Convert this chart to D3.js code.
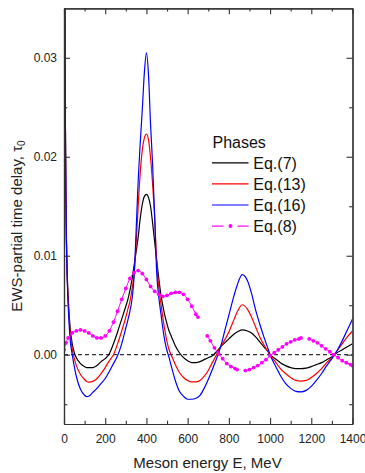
<!DOCTYPE html>
<html>
<head>
<meta charset="utf-8">
<script src="https://cdn.jsdelivr.net/npm/d3@7"></script>
<style>
  html, body { margin: 0; background: #fff; }
  svg { display: block; font-family: Arial, "Liberation Sans", sans-serif; }
</style>
</head>
<body>
<svg id="chart" width="365" height="473"></svg>
<script>
// Meson energy grid (MeV) shared by the three smooth phase curves
const energy = [0, 3, 6, 9, 12, 16, 22, 30, 40, 50, 60, 80, 100, 110, 120, 140, 160, 180, 200, 220,
  240, 260, 280, 300, 310, 320, 330, 340, 350, 360, 370, 380, 390, 400, 410, 420, 430, 440, 450, 460,
  470, 480, 490, 500, 510, 520, 540, 560, 580, 600, 620, 640, 660, 680, 700, 720, 740, 760, 780, 800,
  820, 840, 865, 890, 910, 930, 950, 970, 990, 1000, 1025, 1050, 1075, 1100, 1125, 1150, 1175, 1200,
  1225, 1250, 1275, 1300, 1325, 1350, 1375, 1400];

// EWS partial time delay, Eq.(7)
const eq7 = [0.2, 0.045, 0.026, 0.0165, 0.0115, 0.0080, 0.0051, 0.0027, 0.0011, 0.0002, -0.0003, -0.0009, -0.0012, -0.0013, -0.0013, -0.0013, -0.0011, -0.0007, -0.0004, 0.0001,
  0.0011, 0.0023, 0.0036, 0.0049, 0.0056, 0.0065, 0.0076, 0.0090, 0.0104, 0.0119, 0.0138, 0.0152, 0.0160, 0.0162, 0.0159, 0.0150, 0.0133, 0.0114, 0.0095, 0.0077,
  0.0061, 0.0049, 0.0039, 0.0031, 0.0024, 0.0019, 0.0009, 0.0002, -0.0003, -0.0006, -0.0008, -0.0008, -0.0007, -0.0005, -0.0003, -0.0001, 0.0003, 0.0008, 0.0012, 0.0016,
  0.0020, 0.0023, 0.0025, 0.0024, 0.0022, 0.0018, 0.0013, 0.0008, 0.0003, 0.0000, -0.0004, -0.0008, -0.0011, -0.0013, -0.0014, -0.0014, -0.00135, -0.0012,
  -0.0010, -0.0008, -0.0005, -0.0002, 0.0002, 0.0005, 0.0008, 0.0011];

// EWS partial time delay, Eq.(13)
const eq13 = [0.2, 0.045, 0.026, 0.0164, 0.0113, 0.0077, 0.0047, 0.0022, 0.0006, -0.0004, -0.0011, -0.0020, -0.0025, -0.0027, -0.00276, -0.0027, -0.0024, -0.0019, -0.0013, -0.0006,
  0.0000, 0.0011, 0.0024, 0.0038, 0.0046, 0.0054, 0.0066, 0.0082, 0.0112, 0.0150, 0.0184, 0.0207, 0.0219, 0.0223, 0.0217, 0.0199, 0.0172, 0.0138, 0.0092, 0.0068,
  0.0052, 0.0037, 0.0024, 0.0013, 0.0005, 0.0000, -0.0010, -0.0018, -0.0023, -0.0026, -0.00275, -0.00275, -0.0026, -0.0022, -0.0016, -0.0008, 0.0000, 0.0008, 0.0015, 0.0023,
  0.0033, 0.0043, 0.00505, 0.0046, 0.0038, 0.0028, 0.0018, 0.0010, 0.0003, 0.0000, -0.0007, -0.0014, -0.0019, -0.0023, -0.0026, -0.00266, -0.0026, -0.0023,
  -0.0019, -0.0014, -0.0008, -0.0003, 0.0004, 0.0011, 0.0018, 0.0024];

// EWS partial time delay, Eq.(16)
const eq16 = [0.2, 0.045, 0.026, 0.0163, 0.0111, 0.0074, 0.0042, 0.0015, 0.0000, -0.0012, -0.0022, -0.0035, -0.0041, -0.00423, -0.0042, -0.0038, -0.0034, -0.0029, -0.0024, -0.0017,
  -0.0009, -0.0001, 0.0011, 0.0027, 0.0035, 0.0044, 0.0056, 0.0078, 0.0125, 0.0176, 0.0214, 0.0248, 0.0285, 0.0305, 0.0283, 0.0233, 0.0192, 0.0140, 0.0082, 0.0058,
  0.0042, 0.0026, 0.0013, 0.0004, -0.0003, -0.0011, -0.0026, -0.0037, -0.0042, -0.0045, -0.0045, -0.0044, -0.0041, -0.0034, -0.0025, -0.0015, -0.0004, 0.0008, 0.0024, 0.0040,
  0.0056, 0.0070, 0.0081, 0.0075, 0.0062, 0.0045, 0.0031, 0.0018, 0.0006, 0.0000, -0.0011, -0.0021, -0.0029, -0.0034, -0.0037, -0.00375, -0.0036, -0.0032,
  -0.0026, -0.0019, -0.0011, -0.0004, 0.0004, 0.0014, 0.0025, 0.0036];

// Eq.(8): computed points; null marks a break between branches
const eq8Energy = [0, 10, 20, 40, 60, 80, 100, 120, 140, 160, 180, 200, 220, 240, 260, 280, 300, 320, 340, 360, 380,
  400, 420, 440, 460, 480, 500, 520, 540, 560, 580, 600, 620, 640, 650, 670,
  695, 710, 730, 750, 770, 790, 810, 830, 840, 860,
  880, 900, 920, 940, 960, 980, 1000, 1020, 1040, 1060, 1080, 1100, 1120, 1140, 1150, 1170,
  1190, 1210, 1230, 1250, 1270, 1290, 1310, 1330, 1350, 1370, 1390, 1400];
const eq8 = [0.0005, 0.0012, 0.0017, 0.0022, 0.0024, 0.0025, 0.0024, 0.0022, 0.0019, 0.0017, 0.0017, 0.0019, 0.0024, 0.0033, 0.0044, 0.0056, 0.0067, 0.0077, 0.0083, 0.0085, 0.0082,
  0.0076, 0.0069, 0.0064, 0.0061, 0.0059, 0.0060, 0.0062, 0.0063, 0.0063, 0.0061, 0.0056, 0.0049, 0.0041, 0.0038, null,
  0.0019, 0.0014, 0.0007, 0.0001, -0.0004, -0.0009, -0.0012, -0.0014, -0.0015, null,
  -0.0016, -0.0015, -0.0013, -0.0011, -0.0008, -0.0005, -0.0001, 0.0002, 0.0005, 0.0008, 0.0011, 0.0013, 0.0015, 0.0016, 0.0017, null,
  0.0016, 0.0014, 0.0012, 0.0009, 0.0006, 0.0003, 0.0000, -0.0003, -0.0006, -0.0008, -0.0010, -0.0011];

// Axis ticks
const xMajor = [0, 200, 400, 600, 800, 1000, 1200, 1400];
const xMinor = [100, 300, 500, 700, 900, 1100, 1300];
const yMajor = [0.00, 0.01, 0.02, 0.03];
const yMinor = [-0.005, 0.005, 0.015, 0.025];

const seriesNames = ["Eq.(7)", "Eq.(13)", "Eq.(16)", "Eq.(8)"];
const seriesColors = ["#000000", "#ff0000", "#0000ff", "#ff00ff"];

const svg = d3.select("#chart");
const plotLeft = 64, plotRight = 352.5, plotTop = 8.3, plotBottom = 424;

const x = d3.scaleLinear().domain([0, 1400]).range([plotLeft, plotRight]);
const y = d3.scaleLinear().domain([-0.007, 0.035]).range([plotBottom, plotTop]);

svg.append("defs").append("clipPath").attr("id", "plot-clip")
  .append("rect").attr("x", plotLeft).attr("y", plotTop)
  .attr("width", plotRight - plotLeft).attr("height", plotBottom - plotTop);

// Zero reference line
svg.append("line")
  .attr("x1", x(0)).attr("x2", x(1400)).attr("y1", y(0)).attr("y2", y(0))
  .attr("stroke", "#000").attr("stroke-width", 1).attr("stroke-dasharray", "4,3");

const plot = svg.append("g").attr("clip-path", "url(#plot-clip)");

const line = d3.line()
  .defined(d => d[1] != null)
  .x(d => x(d[0])).y(d => y(d[1]))
  .curve(d3.curveMonotoneX);

[eq7, eq13, eq16].forEach((vals, i) => {
  plot.append("path")
    .datum(energy.map((e, k) => [e, vals[k]]))
    .attr("fill", "none")
    .attr("stroke", seriesColors[i])
    .attr("stroke-width", 1.2)
    .attr("d", line);
});

const eq8Points = eq8Energy.map((e, k) => [e, eq8[k]]);
plot.append("path")
  .datum(eq8Points)
  .attr("fill", "none")
  .attr("stroke", seriesColors[3])
  .attr("stroke-width", 1)
  .attr("d", line);
plot.selectAll("circle.eq8")
  .data(eq8Points.filter(d => d[1] != null))
  .join("circle")
  .attr("class", "eq8")
  .attr("cx", d => x(d[0])).attr("cy", d => y(d[1]))
  .attr("r", 1.9)
  .attr("fill", seriesColors[3]);

// Frame with inward ticks on all four sides
function styleAxis(g) {
  g.select(".domain").attr("stroke", "#333").attr("stroke-width", 1.2);
  g.selectAll(".tick line").attr("stroke", "#333").attr("stroke-width", 1.1);
  g.selectAll("text").attr("fill", "#222").attr("font-size", 12)
    .attr("font-family", "Arial, 'Liberation Sans', sans-serif");
}

svg.append("g").attr("transform", `translate(0,${plotBottom})`)
  .call(d3.axisBottom(x).tickValues(xMinor).tickSize(-3.3).tickSizeOuter(0).tickFormat(""))
  .call(styleAxis);
svg.append("g").attr("transform", `translate(0,${plotBottom})`)
  .call(d3.axisBottom(x).tickValues(xMajor).tickSize(-6).tickSizeOuter(0).tickPadding(10).tickFormat(d3.format("d")))
  .call(styleAxis);

svg.append("g").attr("transform", `translate(0,${plotTop})`)
  .call(d3.axisTop(x).tickValues(xMinor).tickSize(-3.3).tickSizeOuter(0).tickFormat(""))
  .call(styleAxis);
svg.append("g").attr("transform", `translate(0,${plotTop})`)
  .call(d3.axisTop(x).tickValues(xMajor).tickSize(-6).tickSizeOuter(0).tickFormat(""))
  .call(styleAxis);

svg.append("g").attr("transform", `translate(${plotLeft},0)`)
  .call(d3.axisLeft(y).tickValues(yMinor).tickSize(-3.3).tickSizeOuter(0).tickFormat(""))
  .call(styleAxis);
svg.append("g").attr("transform", `translate(${plotLeft},0)`)
  .call(d3.axisLeft(y).tickValues(yMajor).tickSize(-6).tickSizeOuter(0).tickPadding(7).tickFormat(d3.format(".2f")))
  .call(styleAxis);

svg.append("g").attr("transform", `translate(${plotRight},0)`)
  .call(d3.axisRight(y).tickValues(yMinor).tickSize(-3.3).tickSizeOuter(0).tickFormat(""))
  .call(styleAxis);
svg.append("g").attr("transform", `translate(${plotRight},0)`)
  .call(d3.axisRight(y).tickValues(yMajor).tickSize(-6).tickSizeOuter(0).tickFormat(""))
  .call(styleAxis);

// Axis titles
svg.append("text")
  .attr("x", 207.5).attr("y", 467.5)
  .attr("text-anchor", "middle").attr("font-size", 15).attr("fill", "#222")
  .text("Meson energy E, MeV");

const yTitle = svg.append("text")
  .attr("transform", "translate(21.5,226) rotate(-90)")
  .attr("text-anchor", "middle").attr("font-size", 15).attr("fill", "#222");
yTitle.append("tspan").text("EWS-partial time delay, \u03C4");
yTitle.append("tspan").attr("font-size", 10).attr("dy", "0.35em").text("0");

// Legend
const legend = svg.append("g");
legend.append("text").attr("x", 212.5).attr("y", 148.3)
  .attr("font-size", 16).attr("fill", "#111").text("Phases");

seriesNames.forEach((name, i) => {
  const ly = 162.8 + i * 21.1;
  if (i < 3) {
    legend.append("line").attr("x1", 212).attr("x2", 248.5).attr("y1", ly).attr("y2", ly)
      .attr("stroke", seriesColors[i]).attr("stroke-width", 1.2);
  } else {
    legend.append("line").attr("x1", 212).attr("x2", 223.5).attr("y1", ly).attr("y2", ly)
      .attr("stroke", seriesColors[i]).attr("stroke-width", 1.2);
    legend.append("line").attr("x1", 237.5).attr("x2", 248.5).attr("y1", ly).attr("y2", ly)
      .attr("stroke", seriesColors[i]).attr("stroke-width", 1.2);
    legend.append("circle").attr("cx", 230.5).attr("cy", ly).attr("r", 2)
      .attr("fill", seriesColors[i]);
  }
  legend.append("text").attr("x", 253.3).attr("y", ly + 6)
    .attr("font-size", 16).attr("fill", "#111").text(name);
});
</script>
</body>
</html>
